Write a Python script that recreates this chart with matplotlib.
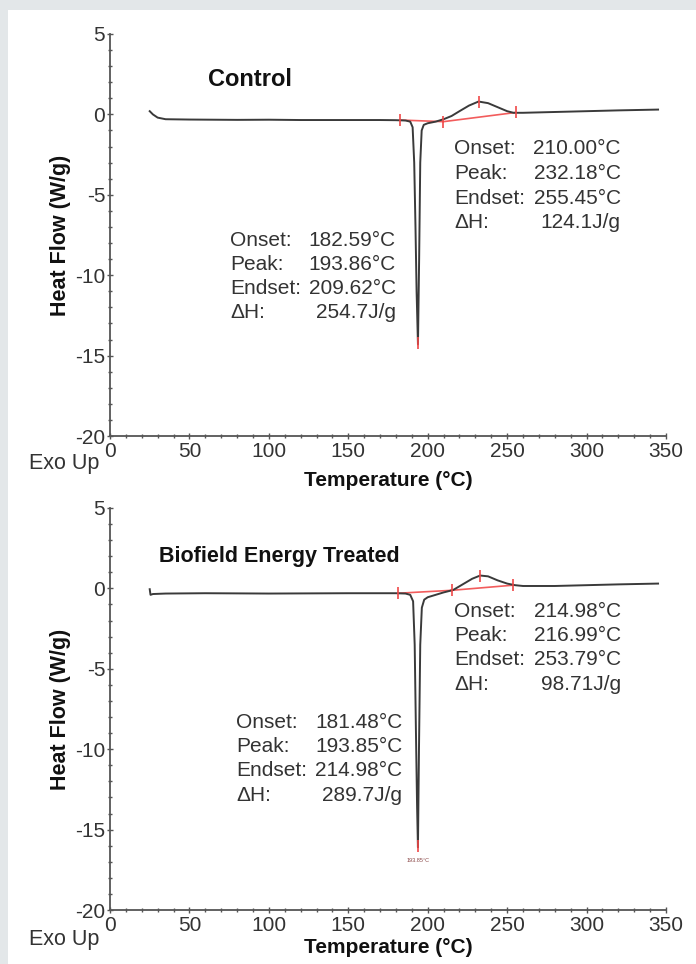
import matplotlib
matplotlib.use("Agg")
import matplotlib.pyplot as plt
from matplotlib.patches import Rectangle
from matplotlib.ticker import MultipleLocator

plt.rcParams['font.family'] = ['Liberation Sans', 'DejaVu Sans']
plt.rcParams['axes.unicode_minus'] = False

# ---- data ----
ctrl_temp = [25, 27, 30, 35, 50, 80, 100, 120, 150, 170, 180, 186, 189, 190.5, 191.5,
             192.3, 193.0, 193.86, 194.6, 195.3, 196.2, 197.5, 200, 205, 210, 215, 220,
             226, 232, 238, 244, 250, 254, 260, 280, 300, 320, 345]
ctrl_flow = [0.2, 0.0, -0.2, -0.3, -0.32, -0.34, -0.33, -0.35, -0.35, -0.35, -0.36, -0.38,
             -0.45, -0.8, -3.0, -7.0, -11.0, -14.3, -9.0, -3.0, -1.0, -0.65, -0.55, -0.45,
             -0.3, -0.1, 0.2, 0.55, 0.8, 0.7, 0.45, 0.2, 0.1, 0.1, 0.15, 0.2, 0.25, 0.3]

trt_temp = [25, 25.5, 27, 35, 60, 100, 150, 180, 186, 189, 190.8, 191.8, 192.6, 193.3,
            193.85, 194.5, 195.3, 196.3, 197.8, 200, 205, 210, 216, 222, 228, 233, 238,
            244, 250, 255, 260, 280, 300, 320, 345]
trt_flow = [-0.05, -0.4, -0.35, -0.32, -0.3, -0.32, -0.3, -0.3, -0.32, -0.4, -0.8, -3.5,
            -9.0, -13.5, -16.1, -10.0, -3.5, -1.2, -0.7, -0.55, -0.4, -0.25, -0.1, 0.25,
            0.6, 0.8, 0.75, 0.5, 0.3, 0.2, 0.15, 0.15, 0.2, 0.25, 0.3]

# baseline (integration) segments: (t0, t1, y0, y1)
ctrl_base = [(182.59, 209.62, -0.35, -0.45), (210.0, 255.45, -0.45, 0.12)]
trt_base = [(181.48, 214.98, -0.3, -0.12), (214.98, 253.79, -0.12, 0.2)]

# red marks at onset / peak / endset
ctrl_marks_t = [182.59, 193.86, 209.62, 232.18, 255.45]
ctrl_marks_y = [-0.35, -14.2, -0.45, 0.8, 0.12]
trt_marks_t = [181.48, 193.85, 214.98, 233.0, 253.79]
trt_marks_y = [-0.3, -16.0, -0.12, 0.8, 0.2]

ctrl_left = ['Onset:', 'Peak:', 'Endset:', 'ΔH:']
ctrl_left_v = ['182.59°C', '193.86°C', '209.62°C', '254.7J/g']
ctrl_right_v = ['210.00°C', '232.18°C', '255.45°C', '124.1J/g']
trt_left_v = ['181.48°C', '193.85°C', '214.98°C', '289.7J/g']
trt_right_v = ['214.98°C', '216.99°C', '253.79°C', '98.71J/g']

fig = plt.figure(figsize=(6.96, 9.64), dpi=100)
fig.patch.set_facecolor('#e3e7e9')
fig.patches.append(Rectangle((8 / 696, 0), 1, 1 - 10 / 964, transform=fig.transFigure,
                             facecolor='white', edgecolor='none', zorder=-10))

AX_C = '#555555'
TXT_C = '#333333'


def text_block(ax, x0, x1, ys, vals):
    for lab, val, y in zip(ctrl_left, vals, ys):
        ax.text(x0, y, lab, fontsize=15, color=TXT_C, va='center', ha='left')
        ax.text(x1, y, val, fontsize=15, color=TXT_C, va='center', ha='right')


def panel(ax, temp, flow, base, mt, my, title, title_x, title_y, title_size, xpad):
    ax.set_xlim(0, 350)
    ax.set_ylim(-20, 5)
    ax.set_facecolor('none')
    for s in ['top', 'right']:
        ax.spines[s].set_visible(False)
    for s in ['left', 'bottom']:
        ax.spines[s].set_color(AX_C)
        ax.spines[s].set_linewidth(1.3)
    ax.xaxis.set_major_locator(MultipleLocator(50))
    ax.xaxis.set_minor_locator(MultipleLocator(10))
    ax.yaxis.set_major_locator(MultipleLocator(5))
    ax.yaxis.set_minor_locator(MultipleLocator(1))
    ax.tick_params(which='both', direction='inout', color=AX_C, labelcolor=TXT_C,
                   labelsize=15)
    ax.tick_params(which='major', length=5, width=1)
    ax.tick_params(which='minor', length=3, width=1)
    ax.tick_params(axis='x', pad=2)
    ax.tick_params(axis='y', pad=1)

    for t0, t1, y0, y1 in base:
        ax.plot([t0, t1], [y0, y1], color='#f25c5c', lw=1.2, zorder=2)
    ax.plot(temp, flow, color='#3a3a3a', lw=1.4, zorder=3)
    ax.plot(mt, my, ls='none', marker='|', ms=9, mew=1.2, color='#f04848', zorder=4)

    ax.text(title_x, title_y, title, fontsize=title_size, fontweight='bold', color='#111111',
            va='center', ha='left')
    ax.set_ylabel('Heat Flow (W/g)', fontsize=15.5, fontweight='bold', color='#111111',
                  labelpad=3)
    ax.set_xlabel('Temperature (°C)', fontsize=15, fontweight='bold', color='#111111',
                  labelpad=xpad)


ax1 = fig.add_axes([110 / 696, 1 - 436 / 964, 556 / 696, 402 / 964])
panel(ax1, ctrl_temp, ctrl_flow, ctrl_base, ctrl_marks_t, ctrl_marks_y, 'Control', 62, 2.2, 17, 7)
text_block(ax1, 75.5, 180.0, [-7.85, -9.35, -10.85, -12.35], ctrl_left_v)
text_block(ax1, 216.5, 321.5, [-2.15, -3.7, -5.25, -6.75], ctrl_right_v)
fig.text(64 / 696, 1 - 463 / 964, 'Exo Up', fontsize=15.5, color=TXT_C, ha='center', va='center')

ax2 = fig.add_axes([110 / 696, 1 - 910 / 964, 556 / 696, 402 / 964])
panel(ax2, trt_temp, trt_flow, trt_base, trt_marks_t, trt_marks_y,
      'Biofield Energy Treated', 31, 2.0, 15.5, 2)
text_block(ax2, 79.5, 184.0, [-8.35, -9.85, -11.35, -12.9], trt_left_v)
text_block(ax2, 216.5, 321.5, [-1.45, -2.95, -4.45, -5.95], trt_right_v)
ax2.text(193.85, -16.9, '193.85°C', fontsize=4, color='#884444', ha='center', va='center')
fig.text(64 / 696, 1 - 940 / 964, 'Exo Up', fontsize=15.5, color=TXT_C, ha='center', va='center')

fig.savefig('out.png', dpi=100, facecolor=fig.get_facecolor())
